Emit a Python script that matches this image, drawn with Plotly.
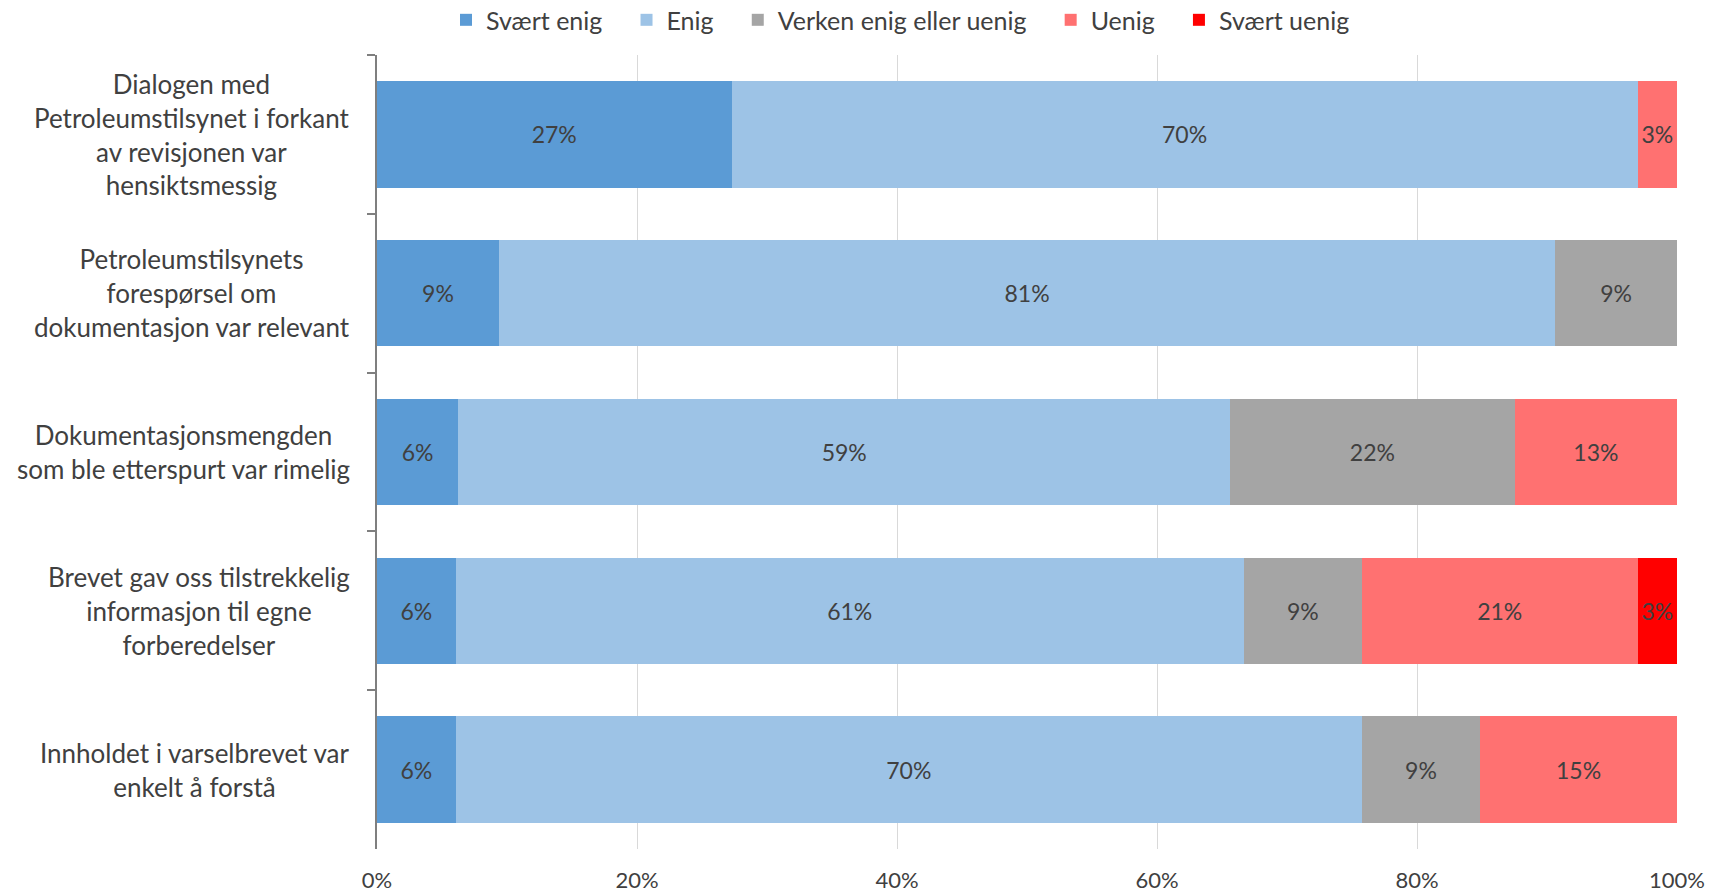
import plotly.graph_objects as go

categories = [
    "Dialogen med<br>Petroleumstilsynet i forkant<br>av revisjonen var<br>hensiktsmessig",
    "Petroleumstilsynets<br>forespørsel om<br>dokumentasjon var relevant",
    "Dokumentasjonsmengden<br>som ble etterspurt var rimelig",
    "Brevet gav oss tilstrekkelig<br>informasjon til egne<br>forberedelser",
    "Innholdet i varselbrevet var<br>enkelt å forstå",
]
series_names = ["Svært enig", "Enig", "Verken enig eller uenig", "Uenig", "Svært uenig"]
svaert_enig = [27.27, 9.38, 6.25, 6.06, 6.06]
enig = [69.70, 81.25, 59.38, 60.61, 69.70]
verken = [0.0, 9.38, 21.88, 9.09, 9.09]
uenig = [3.03, 0.0, 12.50, 21.21, 15.15]
svaert_uenig = [0.0, 0.0, 0.0, 3.03, 0.0]
x_ticks = [0, 20, 40, 60, 80, 100]
x_tick_labels = ["0%", "20%", "40%", "60%", "80%", "100%"]

colors = ["#5B9BD5", "#9DC3E6", "#A5A5A5", "#FF7171", "#FF0000"]
font_family = "Lato, 'Open Sans', sans-serif"
text_color = "#404040"
legend_pad = "\u00a0\u00a0\u00a0"

cat_ids = [f"c{i}" for i in range(len(categories))]

fig = go.Figure()
for name, vals, col in zip(series_names,
                           [svaert_enig, enig, verken, uenig, svaert_uenig],
                           colors):
    fig.add_trace(go.Bar(
        name=name + legend_pad,
        y=cat_ids,
        x=vals,
        orientation="h",
        marker=dict(color=col, line=dict(width=0)),
        text=[f"{int(v + 0.5)}%" if v > 0 else "" for v in vals],
        textposition="inside",
        insidetextanchor="middle",
        textangle=0,
        textfont=dict(family=font_family, size=23, color=text_color),
        hoverinfo="skip",
    ))

for cid, label in zip(cat_ids, categories):
    fig.add_annotation(
        x=-0.0192, xref="paper", y=cid, yref="y",
        text=label, showarrow=False, align="center",
        xanchor="right", yanchor="middle",
        font=dict(family=font_family, size=26, color=text_color),
    )

fig.update_layout(
    width=1721, height=895,
    barmode="stack",
    bargap=0.33,
    paper_bgcolor="white",
    plot_bgcolor="white",
    margin=dict(l=377, r=44, t=55, b=46, autoexpand=False),
    uniformtext=dict(minsize=23, mode="show"),
    font=dict(family=font_family, color=text_color),
    legend=dict(
        orientation="h",
        x=0.41, xanchor="center",
        y=1.044, yanchor="middle",
        font=dict(family=font_family, size=25, color=text_color),
        traceorder="normal",
        itemwidth=30,
    ),
    xaxis=dict(
        range=[0, 100],
        tickvals=x_ticks,
        ticktext=x_tick_labels,
        showgrid=True,
        gridcolor="#D9D9D9",
        gridwidth=1,
        zeroline=False,
        showline=False,
        ticks="",
        tickfont=dict(family=font_family, size=22, color=text_color),
        ticklabelstandoff=16,
        automargin=False,
    ),
    yaxis=dict(
        type="category",
        categoryorder="array",
        categoryarray=cat_ids,
        autorange="reversed",
        showticklabels=False,
        showline=True,
        linecolor="#7F7F7F",
        linewidth=1.5,
        ticks="outside",
        tickson="boundaries",
        ticklen=8,
        tickcolor="#7F7F7F",
        tickwidth=1.5,
        showgrid=False,
        automargin=False,
    ),
)

fig.write_html(
    "out.html",
    config={"displayModeBar": False},
    post_script="document.body.style.margin='0px';",
)
